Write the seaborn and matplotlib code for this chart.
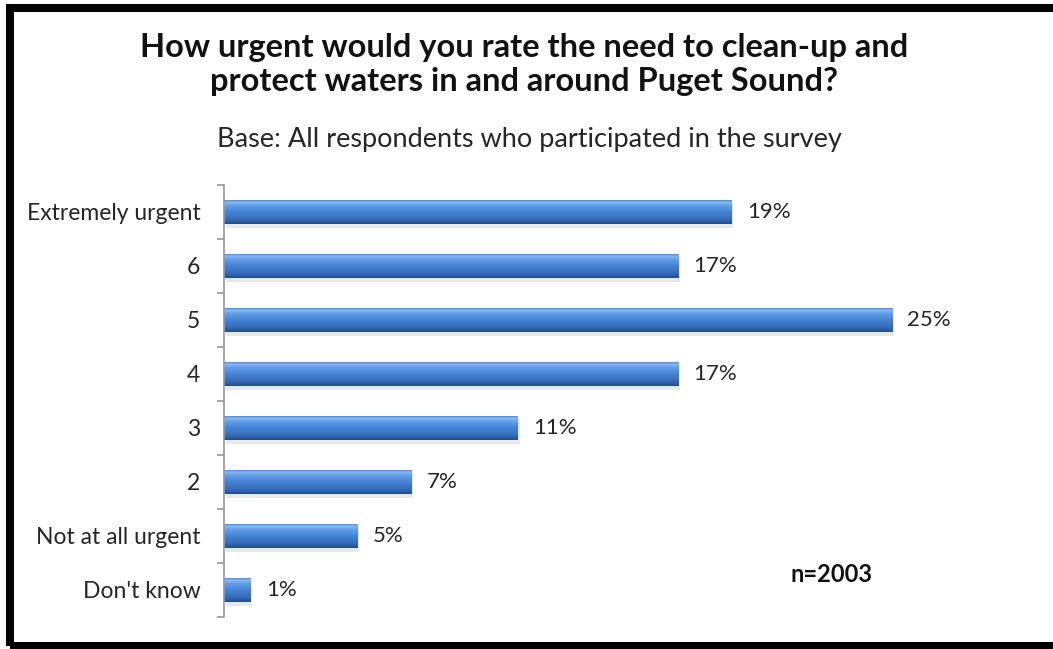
import numpy as np
import pandas as pd
import matplotlib
matplotlib.use("Agg")
import matplotlib.pyplot as plt
from matplotlib.colors import LinearSegmentedColormap
from matplotlib.patches import Rectangle
from matplotlib.ticker import FixedLocator
import seaborn as sns

# Survey responses
categories = ["Extremely urgent", "6", "5", "4", "3", "2", "Not at all urgent", "Don't know"]
percentages = [19, 17, 25, 17, 11, 7, 5, 1]
title_lines = ["How urgent would you rate the need to clean-up and",
               "protect waters in and around Puget Sound?"]
subtitle_text = "Base: All respondents who participated in the survey"
sample_note = "n=2003"

sns.set_theme(style="white")
plt.rcParams["font.family"] = ["Lato", "DejaVu Sans"]

W, H = 1053, 649
fig = plt.figure(figsize=(W / 100, H / 100), dpi=100)
fig.patch.set_facecolor("white")

ax = fig.add_axes([224 / W, 1 - 617 / H, (1000 - 224) / W, (617 - 185) / H])
df = pd.DataFrame({"category": categories, "pct": percentages})
sns.barplot(data=df, x="pct", y="category", orient="h", color="#3f7bcc",
            width=0.43, ax=ax, edgecolor="none")

# glossy vertical gradient on each bar
grad = LinearSegmentedColormap.from_list(
    "gloss",
    [(0.0, "#4a82cd"), (0.07, "#8cbef4"), (0.2, "#65a2ea"),
     (0.5, "#4582d4"), (0.82, "#366bb3"), (1.0, "#244c88")])
g = np.linspace(0, 1, 64).reshape(-1, 1)
for p in list(ax.patches):
    x0, y0 = p.get_x(), p.get_y()
    w, h = p.get_width(), p.get_height()
    # soft shadow beneath the bar
    ax.add_patch(Rectangle((x0 + 0.06, y0 + h * 0.08), w, h * 1.1,
                           facecolor="#000000", alpha=0.09, edgecolor="none", zorder=1.5))
    p.set_zorder(2)
    im = ax.imshow(g, cmap=grad, aspect="auto", extent=(x0, x0 + w, y0 + h, y0),
                   zorder=2.5, interpolation="bicubic")
    im.set_clip_path(p)
ax.set_xlim(0, (1000 - 224) / 26.72)
ax.set_ylim(len(categories) - 0.5, -0.5)

for c in ax.containers:
    ax.bar_label(c, labels=[f"{v}%" for v in percentages], padding=11,
                 fontsize=16, color="#262626")

ax.set_xlabel("")
ax.set_ylabel("")
ax.set_xticks([])
for s in ["top", "right", "bottom"]:
    ax.spines[s].set_visible(False)
ax.spines["left"].set_color("#9a9a9a")
ax.spines["left"].set_linewidth(1.2)
ax.yaxis.set_minor_locator(FixedLocator(np.arange(-0.5, len(categories), 1.0)))
ax.tick_params(axis="y", which="major", length=0, pad=17, labelsize=16.5, labelcolor="#262626")
ax.tick_params(axis="y", which="minor", left=True, length=5, width=1.2, color="#9a9a9a")

for text, ypix in zip(title_lines, [47, 82]):
    fig.text(524 / W, 1 - ypix / H, text, ha="center", va="center",
             fontsize=23.5, fontweight="bold", color="#111111")
fig.text(529 / W, 1 - 140 / H, subtitle_text, ha="center", va="center",
         fontsize=19.5, color="#262626")
fig.text(832 / W, 1 - 575 / H, sample_note, ha="center", va="center",
         fontsize=17, fontweight="bold", color="#111111")

# black frame around the chart
fig.patches.append(Rectangle((10 / W, 1 - 646 / H), 1.05, (646 - 8) / H,
                             transform=fig.transFigure, fill=False,
                             edgecolor="black", linewidth=5.8, zorder=10))

fig.savefig("out.png", dpi=100, facecolor="white")
